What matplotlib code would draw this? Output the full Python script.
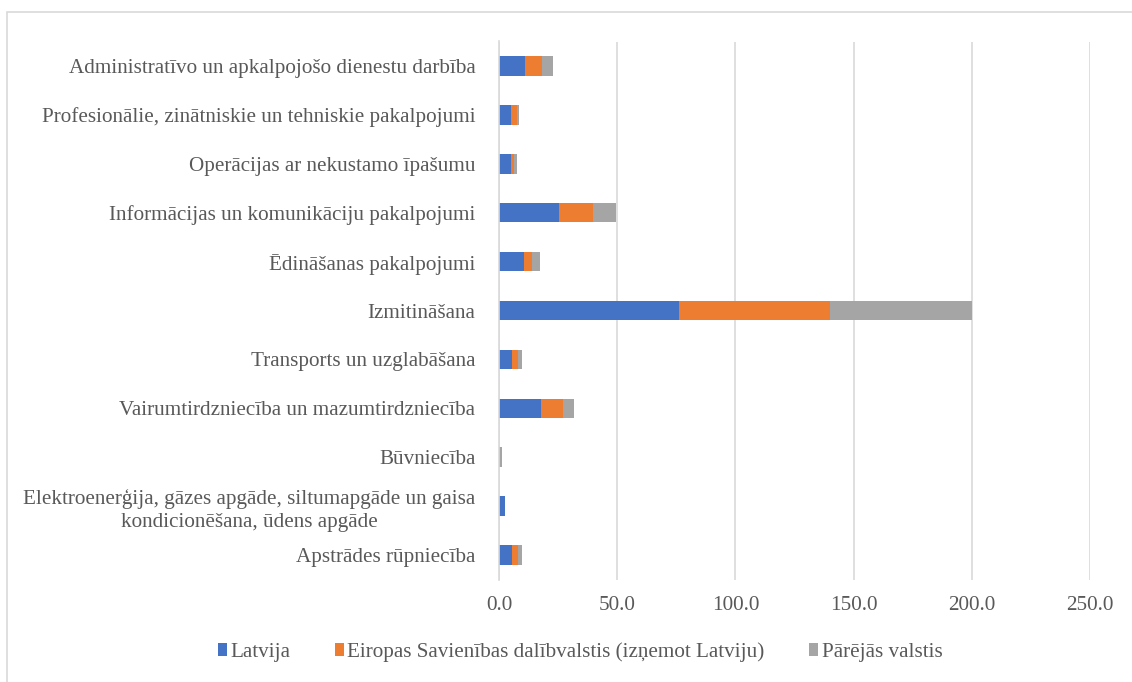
import matplotlib
matplotlib.use("Agg")
import matplotlib.pyplot as plt
from matplotlib.patches import Rectangle, Patch

categories = [
    "Apstrādes rūpniecība",
    "Elektroenerģija, gāzes apgāde, siltumapgāde un gaisa\nkondicionēšana, ūdens apgāde",
    "Būvniecība",
    "Vairumtirdzniecība un mazumtirdzniecība",
    "Transports un uzglabāšana",
    "Izmitināšana",
    "Ēdināšanas pakalpojumi",
    "Informācijas un komunikāciju pakalpojumi",
    "Operācijas ar nekustamo īpašumu",
    "Profesionālie, zinātniskie un tehniskie pakalpojumi",
    "Administratīvo un apkalpojošo dienestu darbība",
]
latvija = [5.4, 2.5, 0.2, 17.8, 5.4, 76.0, 10.6, 25.4, 4.9, 5.2, 11.0]
es = [2.6, 0.1, 0.4, 9.3, 2.8, 64.0, 3.3, 14.3, 1.4, 2.4, 7.0]
citas = [1.8, 0.1, 0.6, 4.6, 1.7, 60.0, 3.4, 9.8, 1.4, 0.7, 5.0]
series_names = ["Latvija", "Eiropas Savienības dalībvalstis (izņemot Latviju)", "Pārējās valstis"]
colors = ["#4472C4", "#ED7D31", "#A5A5A5"]
xticks = [0, 50, 100, 150, 200, 250]

plt.rcParams['font.family'] = ['Liberation Serif', 'DejaVu Serif']
text_color = "#595959"
fs = 15.2

fig = plt.figure(figsize=(11.32, 6.82), dpi=100)
ax = fig.add_axes([499 / 1132, 1 - 579.5 / 682, 591 / 1132, 538 / 682])

y = range(len(categories))
left = [0] * len(categories)
for vals, name, c in zip([latvija, es, citas], series_names, colors):
    ax.barh(y, vals, left=left, height=0.4, color=c, label=name, zorder=3)
    left = [l + v for l, v in zip(left, vals)]

ax.set_xlim(0, 250)
ax.set_ylim(-0.5, len(categories) - 0.5)
ax.set_xticks(xticks)
ax.set_xticklabels([f"{t:.1f}" for t in xticks])
ax.set_yticks(list(y))
ax.set_yticklabels(categories, ha="right", multialignment="center", linespacing=1.3)
ax.tick_params(axis="y", length=0, pad=17, labelsize=fs, labelcolor=text_color)
ax.tick_params(axis="x", length=0, pad=12, labelsize=fs, labelcolor=text_color)

ax.grid(axis="x", color="#D9D9D9", linewidth=1.2, zorder=0)
for s in ["top", "right", "bottom"]:
    ax.spines[s].set_visible(False)
ax.spines["left"].set_color("#D9D9D9")
ax.spines["left"].set_linewidth(1.2)
ax.spines["left"].set_zorder(4)

handles = [Patch(facecolor=c, label=n) for c, n in zip(colors, series_names)]
fig.legend(handles=handles, loc="center", bbox_to_anchor=(580 / 1132, 1 - 652 / 682),
           ncol=3, frameon=False, fontsize=fs, labelcolor=text_color,
           handlelength=0.45, handleheight=0.6, handletextpad=0.15, columnspacing=2.1)

fig.patches.append(Rectangle((7 / 1132, -0.1), 1.2, 1 - 12 / 682 + 0.1, transform=fig.transFigure,
                             fill=False, edgecolor="#D9D9D9", linewidth=1.2, zorder=0))

fig.savefig("out.png", dpi=100)
